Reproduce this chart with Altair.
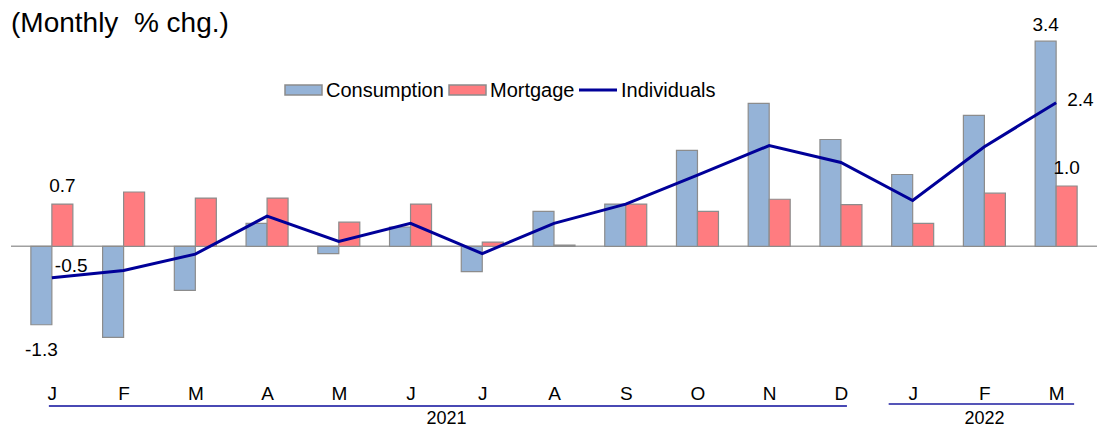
import altair as alt
import pandas as pd

# ---- data ----
keys = ["2021-01", "2021-02", "2021-03", "2021-04", "2021-05", "2021-06", "2021-07",
        "2021-08", "2021-09", "2021-10", "2021-11", "2021-12", "2022-01", "2022-02", "2022-03"]
month_letters = ["J", "F", "M", "A", "M", "J", "J", "A", "S", "O", "N", "D", "J", "F", "M"]
years = ["2021"] * 12 + ["2022"] * 3
consumption = [-1.3, -1.51, -0.73, 0.38, -0.12, 0.32, -0.42, 0.58, 0.7, 1.59, 2.37, 1.77, 1.19, 2.17, 3.4]
mortgage = [0.7, 0.9, 0.8, 0.8, 0.4, 0.7, 0.07, 0.02, 0.7, 0.58, 0.78, 0.69, 0.38, 0.88, 1.0]
individuals = [-0.52, -0.4, -0.13, 0.5, 0.08, 0.38, -0.12, 0.38, 0.7, 1.18, 1.67, 1.39, 0.76, 1.65, 2.38]
series_names = ["Consumption", "Mortgage", "Individuals"]
title_text = "(Monthly\u00a0\u00a0% chg.)"

FONT = "Liberation Sans"
C_CONS = "#95B3D7"
C_MORT = "#FF7C80"
C_LINE = "#000099"
C_EDGE = "#8C8C8C"

n = len(keys)
idx = list(range(n))


def fmt1(vals):
    return [f"{v:.1f}" for v in vals]


cons_df = pd.DataFrame({"key": keys, "idx": idx, "value": consumption, "lab": fmt1(consumption)})
mort_df = pd.DataFrame({"key": keys, "idx": idx, "value": mortgage, "lab": fmt1(mortgage)})
line_df = pd.DataFrame({"key": keys, "idx": idx, "value": individuals, "lab": fmt1(individuals)})
year_df = pd.DataFrame({"year": years, "idx": idx})
one_df = pd.DataFrame({"a": [0]})

label_expr = "[" + ",".join(f"'{m}'" for m in month_letters) + "][datum.value]"

W, H = 1086, 365
ydom = [-2.1, 3.95]
ZERO_PX = H * ydom[1] / (ydom[1] - ydom[0])
BW = 21
FS = 19

xscale = alt.Scale(domain=[-0.5, n - 0.5], nice=False, zero=False)
x_main = alt.X("idx:Q", scale=xscale, title=None,
               axis=alt.Axis(values=idx, labelExpr=label_expr, domain=False, ticks=False,
                             labelAngle=0, labelFont=FONT, labelFontSize=FS, labelColor="black",
                             labelPadding=11, grid=False, labelFlush=False, labelOverlap=False))
x_plain = alt.X("idx:Q", scale=xscale)
y_q = alt.Y("value:Q", scale=alt.Scale(domain=ydom, nice=False, zero=False), axis=None)

zero = alt.Chart(one_df).mark_rule(color="#A0A0A0", strokeWidth=1.5).encode(
    x=alt.value(0), x2=alt.value(W), y=alt.value(ZERO_PX))

bars_c = alt.Chart(cons_df).mark_bar(width=BW, xOffset=-BW / 2, stroke=C_EDGE, strokeWidth=1.2,
                                     fill=C_CONS).encode(
    x=x_main, y=y_q, y2=alt.datum(0))
bars_m = alt.Chart(mort_df).mark_bar(width=BW, xOffset=BW / 2, stroke=C_EDGE, strokeWidth=1.2,
                                     fill=C_MORT).encode(
    x=x_plain, y=y_q, y2=alt.datum(0))

line = alt.Chart(line_df).mark_line(strokeWidth=3, color=C_LINE).encode(x=x_plain, y=y_q)

# ---- legend (drawn as marks) ----
leg_y = 82
leg_rect_c = alt.Chart(one_df).mark_rect(fill=C_CONS, stroke=C_EDGE, strokeWidth=1.5).encode(
    x=alt.value(274), x2=alt.value(311), y=alt.value(leg_y - 5), y2=alt.value(leg_y + 5))
leg_rect_m = alt.Chart(one_df).mark_rect(fill=C_MORT, stroke=C_EDGE, strokeWidth=1.5).encode(
    x=alt.value(438), x2=alt.value(475), y=alt.value(leg_y - 5), y2=alt.value(leg_y + 5))
leg_line = alt.Chart(one_df).mark_rule(color=C_LINE, strokeWidth=3).encode(
    x=alt.value(568), x2=alt.value(606), y=alt.value(leg_y))
leg_txt = dict(font=FONT, fontSize=20, color="black", baseline="middle", align="left")
leg_t1 = alt.Chart(one_df).mark_text(text=series_names[0], **leg_txt).encode(
    x=alt.value(315), y=alt.value(leg_y + 1))
leg_t2 = alt.Chart(one_df).mark_text(text=series_names[1], **leg_txt).encode(
    x=alt.value(479), y=alt.value(leg_y + 1))
leg_t3 = alt.Chart(one_df).mark_text(text=series_names[2], **leg_txt).encode(
    x=alt.value(610), y=alt.value(leg_y + 1))

ends = alt.FieldOneOfPredicate(field="idx", oneOf=[0, n - 1])
txt = dict(font=FONT, fontSize=FS, color="black", baseline="middle")

lab_cons_pos = alt.Chart(cons_df).transform_filter(ends).transform_filter("datum.value >= 0").mark_text(
    xOffset=-BW / 2, dy=-16, **txt).encode(x=x_plain, y=y_q, text="lab:N")
lab_cons_neg = alt.Chart(cons_df).transform_filter(ends).transform_filter("datum.value < 0").mark_text(
    xOffset=-BW / 2, dy=25, **txt).encode(x=x_plain, y=y_q, text="lab:N")
lab_mort = alt.Chart(mort_df).transform_filter(ends).mark_text(xOffset=BW / 2, dy=-18, **txt).encode(
    x=x_plain, y=y_q, text="lab:N")
line_lab_first = alt.Chart(line_df).transform_filter(alt.datum.idx == 0).mark_text(
    dx=3, dy=-12, align="left", **txt).encode(x=x_plain, y=y_q, text="lab:N")
line_lab_last = alt.Chart(line_df).transform_filter(alt.datum.idx == n - 1).mark_text(
    dx=11, dy=-3, align="left", **txt).encode(x=x_plain, y=y_q, text="lab:N")

title = alt.Chart(one_df).mark_text(
    text=title_text, font=FONT, fontSize=28, color="black", align="left", baseline="top"
).encode(x=alt.value(0), y=alt.value(2))

year_agg = alt.Chart(year_df).transform_aggregate(
    lo="min(idx)", hi="max(idx)", groupby=["year"]
).transform_calculate(mid="(datum.lo + datum.hi) / 2")

rule21 = year_agg.transform_filter(alt.datum.year == "2021").mark_rule(
    color="#4848B4", strokeWidth=2.2, xOffset=-3, x2Offset=6).encode(
    x=alt.X("lo:Q", scale=xscale), x2="hi:Q", y=alt.value(398))
rule22 = year_agg.transform_filter(alt.datum.year == "2022").mark_rule(
    color="#1C1CA0", strokeWidth=1.6, xOffset=-24, x2Offset=18).encode(
    x=alt.X("lo:Q", scale=xscale), x2="hi:Q", y=alt.value(396))
year_text = year_agg.mark_text(font=FONT, fontSize=18, color="black", baseline="middle",
                               align="center").encode(
    x=alt.X("mid:Q", scale=xscale), y=alt.value(411), text="year:N")

chart = alt.layer(
    zero, bars_c, bars_m, line, lab_cons_pos, lab_cons_neg, lab_mort, line_lab_first, line_lab_last,
    title, leg_rect_c, leg_rect_m, leg_line, leg_t1, leg_t2, leg_t3,
    rule21, rule22, year_text
).properties(
    width=W, height=H, background="white",
    autosize=alt.AutoSizeParams(type="none"),
    padding={"left": 3, "top": 0, "right": 0, "bottom": 58},
).configure_view(stroke=None)

chart.save("out.html", embed_options={"renderer": "svg", "actions": False})
